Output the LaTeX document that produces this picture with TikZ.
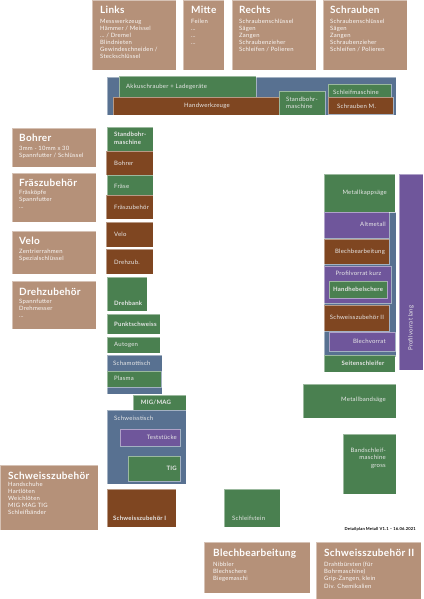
\documentclass[tikz,border=0pt]{standalone}
\usepackage{fontspec}
\setmainfont{Lato}
\newfontfamily\smallfont[LetterSpace=4]{Lato}
\newfontfamily\headfont[LetterSpace=3]{Lato}
\definecolor{tan}{HTML}{B59179}
\definecolor{brn}{HTML}{7F4621}
\definecolor{grn}{HTML}{4A8050}
\definecolor{blu}{HTML}{587191}
\definecolor{prp}{HTML}{6F569B}
\definecolor{lbltxt}{HTML}{E8E8E8}
\tikzset{
  box/.style={draw=white,draw opacity=0.45,line width=0.5pt,inner sep=0pt,outer sep=0pt,anchor=north west},
  lbl/.style={inner sep=0pt,text=lbltxt,font=\smallfont\fontsize{6.0}{7.6}\selectfont},
  lblb/.style={lbl,font=\smallfont\fontsize{6.0}{7.6}\selectfont\bfseries},
  head/.style={inner sep=0pt,text=white,anchor=base west,font=\headfont\fontsize{10}{12}\selectfont\bfseries},
  body/.style={inner sep=0pt,text=white!95!tan,anchor=north west,align=left,font=\smallfont\fontsize{5.9}{7.1}\selectfont},
}
\newcommand\bx[6]{\node[box,fill=#2,minimum width={(#5-#3)*1pt},minimum height={(#6-#4)*1pt}] (#1) at (#3,#4) {};}
\begin{document}
\begin{tikzpicture}[x=1pt,y=-1pt]
\useasboundingbox (0,0) rectangle (423,599);
% ---------- top info boxes
\bx{links}{tan}{92}{0}{176}{70}
\node[head] (linksh) at (100,13.5) {Links};
\node[body] (linksb) at (100,18.5) {Messwerkzeug\\Hämmer / Meissel\\… / Dremel\\Blindnieten\\Gewindeschneiden /\\Steckschlüssel};
\bx{mitte}{tan}{183}{0}{224}{70}
\node[head] (mitteh) at (191,13.5) {Mitte};
\node[body] (mitteb) at (191,18.5) {Feilen\\…\\…\\…};
\bx{rechts}{tan}{232}{0}{316}{70}
\node[head] (rechtsh) at (239,13.5) {Rechts};
\node[body] (rechtsb) at (239,18.5) {Schraubenschlüssel\\Sägen\\Zangen\\Schraubenzieher\\Schleifen / Polieren};
\bx{schrauben}{tan}{323}{0}{407}{70}
\node[head] (schraubenh) at (330,13.5) {Schrauben};
\node[body] (schraubenb) at (330,18.5) {Schraubenschlüssel\\Sägen\\Zangen\\Schraubenzieher\\Schleifen / Polieren};
% ---------- band
\bx{band}{blu}{107}{77}{396}{115}
\bx{akku}{grn}{119}{76}{256}{97}
\node[lbl,anchor=west] at (126,87) {Akkuschrauber + Ladegeräte};
\bx{handwerk}{brn}{113}{97}{282}{115}
\node[lbl] at (207,106) {Handwerkzeuge};
\bx{sbmtop}{grn}{279}{91}{325}{115}
\node[lbl,anchor=north west,align=left] at (286,96.5) {Standbohr-\\maschine};
\bx{schleifm}{grn}{328}{84}{391}{98}
\node[lbl,anchor=west] at (333,92) {Schleifmaschine};
\bx{schraubm}{brn}{328}{97}{393}{114}
\node[lbl,anchor=west] at (337,106) {Schrauben M.};
% ---------- left info boxes
\bx{bohrer}{tan}{12}{128}{96}{167}
\node[head] at (19,141) {Bohrer};
\node[body] at (19,146) {3mm - 10mm x 30\\Spannfutter / Schlüssel};
\bx{fraes}{tan}{12}{173}{96}{222}
\node[head] at (19,186.5) {Fräszubehör};
\node[body] at (19,190) {Fräsköpfe\\Spannfutter\\…};
\bx{velo}{tan}{12}{231}{96}{274}
\node[head] at (19,244.5) {Velo};
\node[body] at (19,249) {Zentrierrahmen\\Spezialschlüssel};
\bx{dreh}{tan}{12}{281}{96}{329}
\node[head] at (19,295.5) {Drehzubehör};
\node[body] at (19,299) {Spannfutter\\Drehmesser\\…};
\bx{szinfo}{tan}{0}{465}{98}{530}
\node[head] at (8,479.5) {Schweisszubehör};
\node[body] at (8,482) {Handschuhe\\Hartlöten\\Weichlöten\\MIG MAG TIG\\Schleifbänder};
\bx{blechinfo}{tan}{204}{542}{310}{593}
\node[head] at (213,556.5) {Blechbearbeitung};
\node[body] at (213,562) {Nibbler\\Blechschere\\Biegemaschi};
\bx{sz2info}{tan}{316}{542}{421}{600}
\node[head] at (324,556.5) {Schweisszubehör II};
\node[body] at (324,562) {Drahtbürsten (für\\Bohrmaschine)\\Grip-Zangen, klein\\Div. Chemikalien};
% ---------- middle column
\bx{sbm}{grn}{107}{127}{153}{152}
\node[lblb,anchor=north west,align=left] at (114,132) {Standbohr-\\maschine};
\bx{bohrerc}{brn}{106}{151}{153}{175}
\node[lbl,anchor=west] at (114,163) {Bohrer};
\bx{fraese}{grn}{107}{175}{153}{195}
\node[lbl,anchor=west] at (114,186) {Fräse};
\bx{fraeszc}{brn}{106}{195}{153}{219}
\node[lbl,anchor=west] at (114,207) {Fräszubehör};
\bx{veloc}{brn}{106}{222}{153}{247}
\node[lbl,anchor=west] at (114,234) {Velo};
\bx{drehzc}{brn}{106}{249}{153}{274}
\node[lbl,anchor=west] at (114,262) {Drehzub.};
\bx{drehbank}{grn}{107}{277}{147}{311}
\node[lblb,anchor=west] at (114,303) {Drehbank};
\bx{punkt}{grn}{107}{314}{160}{334}
\node[lblb,anchor=west] at (114,324) {Punktschweiss};
\bx{autogen}{grn}{107}{337}{160}{353}
\node[lbl,anchor=west] at (114,345) {Autogen};
\bx{schamott}{blu}{107}{355}{162}{394}
\node[lbl,anchor=west] at (113,363) {Schamottisch};
\bx{plasma}{grn}{107}{371}{161}{387}
\node[lbl,anchor=west] at (114,378) {Plasma};
\bx{migmag}{grn}{133}{395}{186}{410}
\node[lblb] at (156,402.5) {MIG/MAG};
\bx{stisch}{blu}{107}{410}{186}{484}
\node[lbl,anchor=west] at (114,418) {Schweisstisch};
\bx{test}{prp}{120}{429}{180}{446}
\node[lbl,anchor=east] at (177,437.5) {Teststücke};
\bx{tig}{grn}{128}{456}{180}{481}
\node[lblb,anchor=east] at (177,468) {TIG};
\bx{szone}{brn}{107}{489}{176}{527}
\node[lblb,anchor=west] at (113,518) {Schweisszubehör I};
\bx{schleifstein}{grn}{224}{489}{280}{527}
\node[lbl,anchor=west] at (232,518) {Schleifstein};
% ---------- right column
\bx{rbg}{blu}{324}{212}{396}{357}
\bx{metallk}{grn}{324}{174}{395}{212}
\node[lbl,anchor=east] at (387,193) {Metallkappsäge};
\bx{altmetall}{prp}{324}{212}{389}{238}
\node[lbl,anchor=east] at (386,224.5) {Altmetall};
\bx{blechb}{brn}{324}{239}{389}{264}
\node[lbl] at (360,252) {Blechbearbeitung};
\bx{profk}{prp}{324}{266}{391}{303}
\node[lbl] at (358.5,273.5) {Profilvorrat kurz};
\bx{handhebel}{grn}{329}{281}{387}{298}
\node[lblb] at (358,289.5) {Handhebelschere};
\bx{sztwo}{brn}{324}{305}{389}{331}
\node[lbl] at (357,317.5) {Schweisszubehör II};
\bx{blechv}{prp}{329}{332}{395}{351}
\node[lbl,anchor=east] at (386,341.5) {Blechvorrat};
\bx{seiten}{grn}{324}{355}{395}{372}
\node[lblb] at (363,363.5) {Seitenschleifer};
\bx{proflang}{prp}{399}{174}{423}{370}
\node[lbl,rotate=90] at (411,328) {Profilvorrat lang};
\bx{metallband}{grn}{303}{384}{396}{418}
\node[lbl,anchor=east] at (386,399.5) {Metallbandsäge};
\bx{bandschleif}{grn}{343}{434}{396}{494}
\node[lbl,anchor=north east,align=right] at (386,447.5) {Bandschleif-\\maschine\\gross};
% caption
\node[inner sep=0pt,anchor=east,font=\smallfont\fontsize{4.1}{5}\selectfont\bfseries] (caption) at (416,529) {Detailplan Metall V1.1 – 16.06.2021};
\end{tikzpicture}
\end{document}
